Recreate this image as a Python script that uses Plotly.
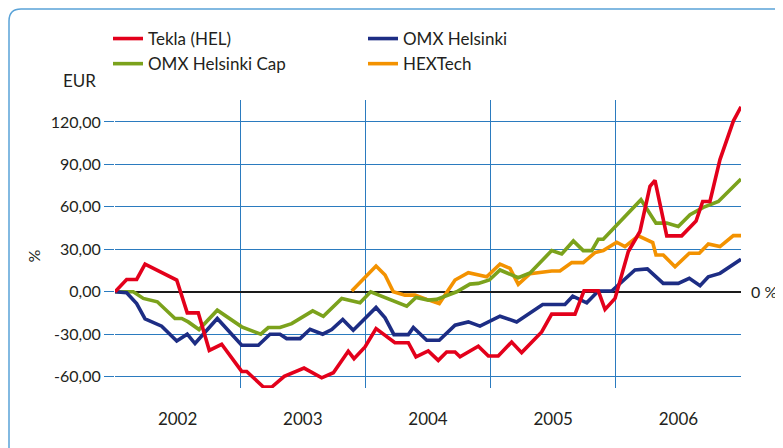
import plotly.graph_objects as go

# Values, x as decimal years
tekla_x = [2002.000, 2002.093, 2002.173, 2002.240, 2002.493, 2002.577, 2002.665, 2002.753, 2002.852,
           2003.012, 2003.052, 2003.185, 2003.252, 2003.352, 2003.510, 2003.651, 2003.744, 2003.863,
           2003.909, 2003.997, 2004.085, 2004.236, 2004.343, 2004.404, 2004.502, 2004.582, 2004.649,
           2004.716, 2004.756, 2004.902, 2004.982, 2005.061, 2005.168, 2005.248, 2005.408, 2005.488,
           2005.674, 2005.746, 2005.860, 2005.914, 2005.994, 2006.100, 2006.193, 2006.273, 2006.313,
           2006.407, 2006.526, 2006.641, 2006.694, 2006.752, 2006.832, 2006.939, 2007.000]
tekla_y = [0, 8.7, 8.7, 19.6, 8.3, -14.9, -14.9, -41.4, -37.1,
           -56.3, -56.3, -67.3, -67.3, -59.8, -53.9, -60.8, -57.2, -42.0,
           -47.3, -39.0, -26.0, -36.0, -36.0, -46.0, -41.8, -48.5, -42.6,
           -42.6, -46.0, -38.5, -45.4, -45.4, -35.5, -43.0, -28.4, -15.8,
           -15.8, 0.7, 0.7, -12.5, -4.7, 28.4, 42.6, 74.5, 78.7,
           39.5, 39.5, 50.0, 63.8, 63.8, 93.4, 120.6, 130.7]

omx_x = [2002.000, 2002.093, 2002.173, 2002.240, 2002.373, 2002.493, 2002.577, 2002.639, 2002.817,
         2003.012, 2003.145, 2003.238, 2003.318, 2003.371, 2003.478, 2003.558, 2003.659, 2003.731,
         2003.819, 2003.903, 2004.085, 2004.157, 2004.228, 2004.343, 2004.383, 2004.490, 2004.590,
         2004.716, 2004.822, 2004.915, 2005.075, 2005.208, 2005.416, 2005.594, 2005.656, 2005.768,
         2005.860, 2005.967, 2006.153, 2006.252, 2006.379, 2006.499, 2006.587, 2006.673, 2006.739,
         2006.832, 2007.000]
omx_y = [0, -0.7, -8.3, -19.1, -24.3, -34.8, -30.0, -36.6, -18.9,
         -37.8, -37.8, -30.0, -30.0, -33.1, -33.1, -26.5, -30.0, -26.7,
         -19.6, -27.2, -11.1, -18.4, -30.3, -30.3, -25.3, -34.3, -34.3,
         -23.6, -21.3, -24.3, -17.3, -21.3, -9.0, -9.0, -3.1, -7.8,
         0.5, 0.5, 15.4, 16.1, 5.9, 5.9, 9.5, 4.3, 10.6,
         13.0, 22.9]

cap_x = [2002.000, 2002.146, 2002.226, 2002.338, 2002.479, 2002.533, 2002.585, 2002.671, 2002.817,
         2003.012, 2003.164, 2003.224, 2003.318, 2003.411, 2003.579, 2003.664, 2003.811, 2003.957,
         2004.042, 2004.330, 2004.404, 2004.502, 2004.569, 2004.729, 2004.835, 2004.902, 2004.990,
         2005.075, 2005.221, 2005.315, 2005.488, 2005.568, 2005.661, 2005.740, 2005.808, 2005.860,
         2005.900, 2006.201, 2006.321, 2006.407, 2006.499, 2006.593, 2006.699, 2006.819, 2007.000]
cap_y = [0, 0, -4.7, -7.1, -18.9, -18.9, -21.3, -26.7, -13.0,
         -24.8, -30.0, -25.3, -25.3, -22.5, -13.5, -17.3, -4.7, -7.8,
         0, -10.2, -4.0, -5.9, -5.4, 0, 5.4, 5.9, 8.3,
         15.4, 9.9, 13.3, 29.1, 26.7, 35.9, 29.1, 29.1, 37.1,
         37.1, 65.0, 48.5, 48.5, 46.1, 54.4, 59.6, 63.8, 79.7]

hex_x = [2003.891, 2004.085, 2004.157, 2004.223, 2004.316, 2004.396, 2004.490, 2004.590, 2004.716,
         2004.822, 2004.969, 2005.075, 2005.155, 2005.221, 2005.315, 2005.488, 2005.554, 2005.648,
         2005.740, 2005.834, 2005.900, 2006.007, 2006.073, 2006.180, 2006.295, 2006.321, 2006.379,
         2006.473, 2006.587, 2006.667, 2006.739, 2006.832, 2006.939, 2007.000]
hex_y = [0.5, 18.2, 11.8, 0, -2.4, -2.4, -5.4, -8.3, 8.3,
         13.5, 10.6, 19.6, 16.5, 5.2, 12.8, 14.7, 14.7, 20.6,
         20.6, 27.7, 29.1, 35.0, 31.9, 39.5, 34.8, 26.0, 26.0,
         17.7, 27.2, 27.2, 33.8, 31.9, 39.7, 39.7]

year_bounds = [2002, 2003, 2004, 2005, 2006, 2007]
year_labels = ['2002', '2003', '2004', '2005', '2006']
y_ticks = [-60, -30, 0, 30, 60, 90, 120]
y_labels = ['-60,00', '-30,00', '0,00', '30,00', '60,00', '90,00', '120,00']

FONT = 'Lato'
TXT = '#231f20'
GRID = '#2b7bbf'

# page body adds an 8px margin, so the figure itself is a bit smaller
OFF = 8
W, H = 783 - OFF, 448 - OFF
# plot area on screen: x 115..741, y 100..388
ML, MR, MT, MB = 115 - OFF, 783 - 741, 100 - OFF, 448 - 388

fig = go.Figure()
# drawn bottom-up so Tekla sits on top; legendrank keeps legend order
series = [
    ('HEXTech', hex_x, hex_y, '#f39200', 4),
    ('OMX Helsinki Cap', cap_x, cap_y, '#7ba21c', 3),
    ('OMX Helsinki', omx_x, omx_y, '#1d2d84', 2),
    ('Tekla (HEL)', tekla_x, tekla_y, '#e3001b', 1),
]
for name, xs, ys, col, rank in series:
    fig.add_trace(go.Scatter(x=xs, y=ys, name=name, mode='lines',
                             line=dict(color=col, width=3.6), legendrank=rank))


def scr2paper(sx, sy):
    # screen pixel -> paper fraction
    px, py = sx - OFF, sy - OFF
    return (px - ML) / (W - ML - MR), (H - MB - py) / (H - MT - MB)


# rounded frame round the whole chart
r = 12
x0, y_top = scr2paper(9, 9)
x_r, y_r = scr2paper(9 + r, 9 + r)
_, y_bot = scr2paper(9, 470)
x_end, _ = scr2paper(800, 9)
frame = f'M {x0},{y_bot} L {x0},{y_r} Q {x0},{y_top} {x_r},{y_top} L {x_end},{y_top}'
fig.add_shape(type='path', path=frame, xref='paper', yref='paper',
              line=dict(color='#5aa3d8', width=1.5), layer='below')

fig.update_layout(
    width=W, height=H,
    margin=dict(l=ML, r=MR, t=MT, b=MB, autoexpand=False),
    plot_bgcolor='white', paper_bgcolor='white',
    font=dict(family=FONT, size=17, color=TXT),
    showlegend=True,
    legend=dict(orientation='h', xref='container', yref='container',
                x=(108 - OFF) / W, y=1 - (21 - OFF) / H, xanchor='left', yanchor='top',
                entrywidth=210, traceorder='normal', font=dict(size=17),
                bgcolor='rgba(0,0,0,0)'),
)
fig.update_xaxes(
    range=[2002, 2007], tickmode='array',
    tickvals=[y + 0.5 for y in year_bounds[:-1]], ticktext=year_labels,
    ticks='outside', ticklen=16, tickcolor='rgba(0,0,0,0)',
    showgrid=False, zeroline=False, showline=False, fixedrange=True, automargin=False,
    minor=dict(tickmode='array', tickvals=year_bounds, showgrid=True,
               gridcolor=GRID, gridwidth=1.2),
)
fig.update_yaxes(
    range=[-68, 135.5], tickmode='array', tickvals=y_ticks, ticktext=y_labels,
    ticks='outside', ticklen=10, tickcolor=GRID, tickwidth=1.2,
    tickfont=dict(size=16),
    showgrid=True, gridcolor=GRID, gridwidth=1.2,
    zeroline=True, zerolinecolor='#1a1a1a', zerolinewidth=1.6,
    showline=False, fixedrange=True, automargin=False,
)

ex, ey = scr2paper(61, 81)
fig.add_annotation(text='EUR', xref='paper', yref='paper', x=ex, y=ey,
                   xanchor='left', yanchor='middle', showarrow=False, font=dict(size=17))
px_, py_ = scr2paper(21, 256)
fig.add_annotation(text='%', xref='paper', yref='paper', x=px_, y=py_, textangle=-90,
                   showarrow=False, font=dict(size=16))
zx, _ = scr2paper(749, 0)
fig.add_annotation(text='0 %', xref='paper', yref='y', x=zx, y=0,
                   xanchor='left', yanchor='middle', showarrow=False, font=dict(size=16))

fig.write_html('out.html')
